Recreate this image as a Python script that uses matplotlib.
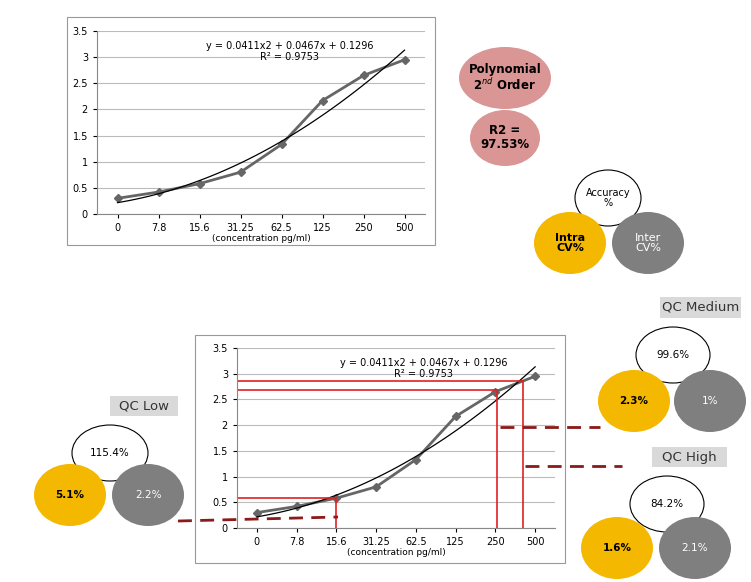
import matplotlib.pyplot as plt
import numpy as np
from matplotlib.patches import Ellipse, Rectangle

W, H = 751, 582
conc_labels = ['0', '7.8', '15.6', '31.25', '62.5', '125', '250', '500']
response = [0.3, 0.42, 0.58, 0.8, 1.33, 2.17, 2.65, 2.95]
coef = [0.0411, 0.0467, 0.1296]
eq_text = 'y = 0.0411x2 + 0.0467x + 0.1296\nR² = 0.9753'

# QC read-offs on the lower chart: (y level, x index)
qc_lines = [(0.58, 2.0), (2.68, 6.05), (2.85, 6.7)]

YELLOW = '#f5b800'
GRAY = '#7f7f7f'
PINK = '#d99694'

fig = plt.figure(figsize=(W / 100, H / 100), dpi=100)
bg = fig.add_axes([0, 0, 1, 1])
bg.set_xlim(0, W)
bg.set_ylim(H, 0)
bg.axis('off')


def px_axes(x0, y0, x1, y1):
    return fig.add_axes([x0 / W, 1 - y1 / H, (x1 - x0) / W, (y1 - y0) / H])


def curve(ax, x_text, y_text):
    x = np.arange(len(response))
    ax.set_xlim(-0.5, 7.5)
    ax.set_ylim(0, 3.5)
    ax.set_yticks(np.arange(0, 3.6, 0.5))
    ax.set_yticklabels(['0', '0.5', '1', '1.5', '2', '2.5', '3', '3.5'])
    ax.set_xticks(x)
    ax.set_xticklabels(conc_labels)
    ax.tick_params(labelsize=7, length=3)
    ax.grid(axis='y', color='#bbbbbb', lw=0.8)
    ax.set_axisbelow(True)
    for s in ['top', 'right']:
        ax.spines[s].set_visible(False)
    ax.spines['left'].set_color('#888888')
    ax.spines['bottom'].set_color('#888888')
    ax.plot(x, response, color='#666666', lw=2, marker='D', ms=4.5)
    xt = np.linspace(0, 7.0, 100)
    xx = xt + 1
    ax.plot(xt, coef[0] * xx ** 2 + coef[1] * xx + coef[2], color='black', lw=0.9)
    ax.text(x_text, y_text, eq_text, fontsize=7, ha='center', va='top', linespacing=1.1)
    ax.set_xlabel('(concentration pg/ml)', fontsize=6.5, labelpad=1)


# top chart
bg.add_patch(Rectangle((67, 17), 368, 228, fill=False, ec='#999999', lw=0.8))
ax1 = px_axes(97, 31, 425, 214)
curve(ax1, 4.2, 3.3)

# bottom chart
bg.add_patch(Rectangle((195, 335), 370, 228, fill=False, ec='#999999', lw=0.8))
ax2 = px_axes(237, 348, 555, 528)
curve(ax2, 4.2, 3.3)
for yv, xi in qc_lines:
    ax2.plot([-0.5, xi], [yv, yv], color='#e02020', lw=1.2)
    ax2.plot([xi, xi], [0, yv], color='#e02020', lw=1.2)

# overlay for connectors and bubbles
top = fig.add_axes([0, 0, 1, 1])
top.set_xlim(0, W)
top.set_ylim(H, 0)
top.axis('off')
top.patch.set_alpha(0)

for xs, ys in [([178, 338], [521, 517]), ([500, 600], [427, 427]), ([525, 622], [466, 466])]:
    top.plot(xs, ys, color='#8b1a1a', lw=2, ls=(0, (5, 3)))


def bubble(cx, cy, w, h, color, text, tc='black', bold=False, fs=7.5):
    ec = 'black' if color == 'white' else 'none'
    top.add_patch(Ellipse((cx, cy), w, h, fc=color, ec=ec, lw=0.8))
    top.text(cx, cy, text, ha='center', va='center', fontsize=fs, color=tc,
             fontweight='bold' if bold else 'normal', linespacing=1.1)


def label(x0, y0, x1, y1, text):
    top.add_patch(Rectangle((x0, y0), x1 - x0, y1 - y0, fc='#d9d9d9', ec='none'))
    top.text((x0 + x1) / 2, (y0 + y1) / 2, text, ha='center', va='center', fontsize=9.5, color='#333333')


bubble(505, 78, 92, 62, PINK, 'Polynomial\n2$^{nd}$ Order', bold=True, fs=8.5)
bubble(505, 138, 70, 56, PINK, 'R2 =\n97.53%', bold=True, fs=8.5)
bubble(608, 198, 66, 56, 'white', 'Accuracy\n%', fs=7)
bubble(570, 243, 72, 62, YELLOW, 'Intra\nCV%', bold=True, fs=8)
bubble(648, 243, 72, 62, GRAY, 'Inter\nCV%', tc='white', fs=8)

label(110, 396, 178, 416, 'QC Low')
bubble(110, 453, 76, 56, 'white', '115.4%')
bubble(70, 495, 72, 62, YELLOW, '5.1%', bold=True)
bubble(148, 495, 72, 62, GRAY, '2.2%', tc='white')

label(660, 297, 741, 318, 'QC Medium')
bubble(673, 355, 74, 56, 'white', '99.6%')
bubble(634, 401, 72, 62, YELLOW, '2.3%', bold=True)
bubble(710, 401, 72, 62, GRAY, '1%', tc='white')

label(652, 447, 727, 467, 'QC High')
bubble(667, 504, 74, 56, 'white', '84.2%')
bubble(617, 548, 72, 62, YELLOW, '1.6%', bold=True)
bubble(695, 548, 72, 62, GRAY, '2.1%', tc='white')

fig.savefig('out.png', dpi=100)
